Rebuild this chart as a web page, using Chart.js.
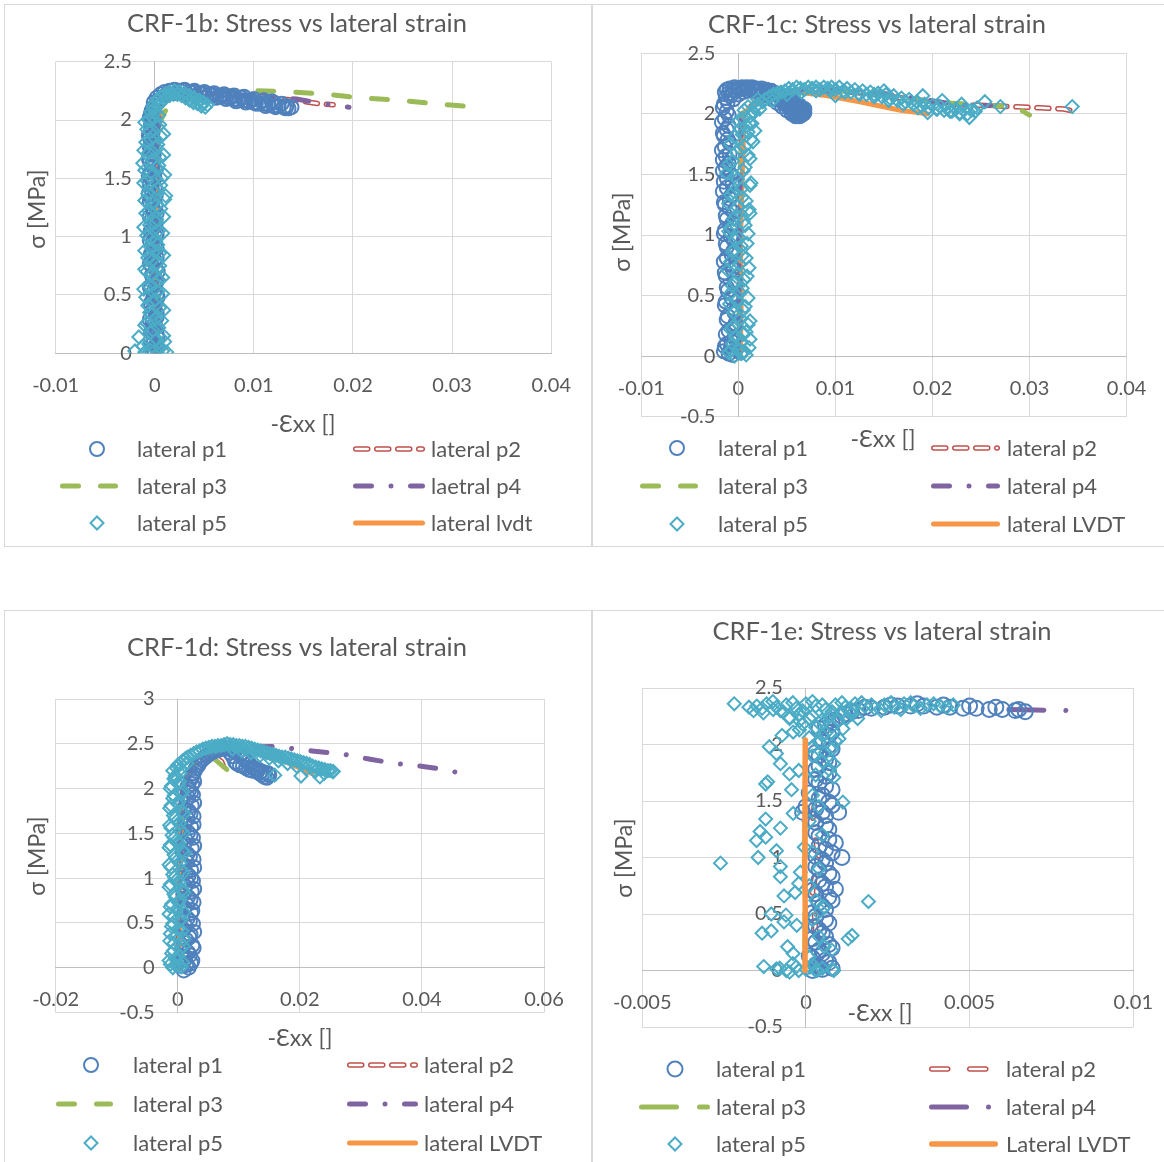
<!DOCTYPE html>
<html>
<head>
<meta charset="utf-8">
<title>CRF-1 lateral strain</title>
<script src="https://cdn.jsdelivr.net/npm/chart.js@4.4.0/dist/chart.umd.min.js"></script>
<style>
  body { margin: 0; background: #fff; width: 1164px; height: 1162px; overflow: hidden; position: relative; }
  .panel { position: absolute; border: 1px solid #d9d9d9; background: #fff; overflow: hidden; }
  .panel canvas { position: absolute; left: 0; top: 0; }
</style>
</head>
<body>
<div class="panel" style="left:4px;top:4px;width:586px;height:541px"><canvas id="crf1b" width="586" height="541"></canvas></div>
<div class="panel" style="left:592px;top:4px;width:580px;height:541px"><canvas id="crf1c" width="580" height="541"></canvas></div>
<div class="panel" style="left:4px;top:610px;width:586px;height:560px"><canvas id="crf1d" width="586" height="560"></canvas></div>
<div class="panel" style="left:592px;top:610px;width:580px;height:560px"><canvas id="crf1e" width="580" height="560"></canvas></div>
<script>
// ---------- CRF-1b ----------
const bXTicks = [-0.01, 0, 0.01, 0.02, 0.03, 0.04];
const bYTicks = [0, 0.5, 1, 1.5, 2, 2.5];
const bNames = ['lateral p1', 'lateral p2', 'lateral p3', 'laetral p4', 'lateral p5', 'lateral lvdt'];
const bP1 = [[0.0000,0.00],[-0.0003,0.03],[0.0002,0.05],[-0.0001,0.09],[0.0003,0.13],[-0.0004,0.18],[0.0001,0.22],[-0.0002,0.27],[0.0002,0.31],[-0.0003,0.36],[0.0000,0.41],[-0.0002,0.46],[0.0002,0.50],[-0.0004,0.55],[0.0001,0.60],[-0.0002,0.65],[0.0003,0.70],[-0.0003,0.75],[0.0000,0.80],[-0.0004,0.85],[0.0002,0.90],[-0.0002,0.95],[0.0001,1.00],[-0.0004,1.05],[0.0000,1.10],[-0.0003,1.15],[0.0002,1.20],[-0.0002,1.25],[-0.0005,1.30],[0.0001,1.35],[-0.0003,1.40],[-0.0005,1.45],[0.0000,1.50],[-0.0004,1.55],[-0.0002,1.60],[-0.0005,1.65],[-0.0001,1.70],[-0.0004,1.75],[-0.0003,1.80],[-0.0005,1.85],[-0.0002,1.90],[-0.0004,1.95],[-0.0003,2.00],[-0.0004,2.05],[-0.0002,2.10],[-0.0001,2.15],[0.0002,2.19],[0.0006,2.22],[0.0010,2.24],[0.0015,2.25],[0.0020,2.26],[0.0025,2.25],[0.0030,2.25],[0.0035,2.24],[0.0040,2.24],[0.0045,2.23],[0.0050,2.22],[0.0055,2.22],[0.0060,2.21],[0.0065,2.20],[0.0070,2.20],[0.0075,2.19],[0.0080,2.18],[0.0085,2.17],[0.0090,2.17],[0.0095,2.16],[0.0100,2.15],[0.0105,2.14],[0.0110,2.14],[0.0115,2.13],[0.0120,2.12],[0.0125,2.12],[0.0130,2.11],[0.0135,2.10],[0.0138,2.11],[0.0133,2.12],[0.0128,2.14],[0.0120,2.15],[0.0110,2.17],[0.0100,2.18],[0.0090,2.20],[0.0080,2.21],[0.0070,2.22],[0.0060,2.23],[0.0050,2.24],[0.0040,2.25],[0.0030,2.26],
  [-0.0001,0.02],[0.0001,0.07],[-0.0004,0.11],[0.0002,0.16],[-0.0002,0.20],[0.0000,0.25],[-0.0005,0.29],[0.0002,0.34],[-0.0001,0.38],[-0.0004,0.43],[0.0003,0.48],[-0.0001,0.53],[-0.0005,0.57],[0.0002,0.62],[-0.0003,0.67],[0.0001,0.72],[-0.0005,0.77],[0.0002,0.82],[-0.0002,0.87],[0.0000,0.92],[-0.0005,0.97],[0.0002,1.02],[-0.0002,1.07],[0.0001,1.12],[-0.0005,1.17],[-0.0001,1.22],[0.0001,1.27],[-0.0003,1.32],[-0.0006,1.37],[0.0000,1.42],[-0.0002,1.47],[-0.0006,1.52],[0.0001,1.57],[-0.0003,1.62],[-0.0006,1.67],[-0.0002,1.72],[-0.0005,1.77],[-0.0001,1.82],[-0.0006,1.87],[-0.0003,1.92],[-0.0001,1.97],[-0.0005,2.02],[-0.0003,2.08],[0.0000,2.12],[0.0004,2.17],
  [0.0012,2.22],[0.0022,2.23],[0.0032,2.22],[0.0042,2.21],[0.0052,2.20],[0.0062,2.19],[0.0072,2.18],[0.0082,2.16],[0.0092,2.15],[0.0102,2.14],[0.0112,2.12],[0.0122,2.11],[0.0132,2.10],[0.0118,2.16],[0.0108,2.16],[0.0098,2.17],[0.0088,2.19],[0.0078,2.20],[0.0068,2.21],[0.0058,2.22],[0.0048,2.23]];
const bP2 = [[0.0001,0],[0.0002,0.5],[0.0001,1.0],[0.0002,1.5],[0.0001,1.9],[0.0006,2.12],[0.0015,2.22],[0.0030,2.24],[0.0050,2.23],[0.0070,2.22],[0.0090,2.21],[0.0110,2.20],[0.0130,2.18],[0.0150,2.16],[0.0165,2.14],[0.0180,2.13]];
const bP3 = [[0,0],[0.0001,0.6],[0.0002,1.2],[0.0003,1.8],[0.0005,1.98],[0.0012,2.10],[0.0022,2.17],[0.0040,2.22],[0.0065,2.25],[0.0086,2.255],[0.0131,2.244],[0.0177,2.218],[0.0207,2.19],[0.0245,2.17],[0.0282,2.14],[0.0325,2.11]];
const bP4 = [[0,0],[-0.0001,1.0],[0,1.9],[0.0010,2.18],[0.0030,2.23],[0.0060,2.22],[0.0100,2.20],[0.0143,2.18],[0.0170,2.14],[0.0196,2.11]];
const bP5 = [[-0.0020,0.02],[-0.0016,0.14],[-0.0010,0.01],[-0.0005,0.03],[0.0003,0.00],[0.0008,0.02],[0.0012,0.01],[0.0010,0.10],[-0.0006,0.08],[0.0002,0.12],[-0.0004,0.18],[0.0004,0.22],[-0.0008,0.26],[0.0001,0.30],[-0.0005,0.35],[0.0005,0.39],[-0.0002,0.44],[-0.0009,0.48],[0.0003,0.53],[-0.0006,0.58],[0.0004,0.63],[-0.0003,0.68],[-0.0010,0.72],[0.0002,0.77],[-0.0007,0.82],[0.0005,0.86],[-0.0004,0.91],[0.0001,0.96],[-0.0008,1.01],[0.0004,1.05],[-0.0005,1.10],[0.0002,1.15],[-0.0009,1.20],[0.0006,1.24],[-0.0003,1.29],[0.0010,1.32],[-0.0007,1.37],[0.0003,1.41],[-0.0011,1.46],[0.0007,1.50],[-0.0004,1.55],[0.0002,1.59],[-0.0012,1.63],[0.0005,1.68],[-0.0006,1.72],[0.0001,1.77],[-0.0009,1.81],[0.0006,1.86],[-0.0005,1.90],[0.0003,1.94],[-0.0010,1.98],[-0.0002,2.02],[0.0001,2.07],[0.0003,2.12],[0.0007,2.16],[0.0011,2.19],[0.0015,2.21],[0.0019,2.22],[0.0023,2.22],[0.0027,2.21],[0.0031,2.19],[0.0035,2.17],[0.0039,2.15],[0.0043,2.14],[0.0047,2.12],[0.0051,2.11],[0.0053,2.13],[0.0049,2.15],[0.0045,2.17],[0.0040,2.19],[0.0035,2.21],[0.0030,2.23],[0.0025,2.24],[0.0020,2.25],[0.0015,2.24],[0.0010,2.22],[0.0006,2.20],[0.0002,2.17],[-0.0002,2.12],[-0.0004,2.07],
  [0.0006,0.05],[-0.0012,0.06],[0.0009,0.15],[-0.0002,0.20],[-0.0010,0.24],[0.0007,0.28],[-0.0003,0.33],[0.0009,0.37],[-0.0007,0.41],[0.0001,0.46],[0.0008,0.51],[-0.0011,0.55],[0.0000,0.60],[0.0008,0.65],[-0.0008,0.70],[0.0005,0.75],[-0.0002,0.80],[0.0009,0.84],[-0.0010,0.88],[0.0003,0.93],[-0.0005,0.98],[0.0008,1.03],[-0.0011,1.08],[0.0001,1.12],[0.0009,1.17],[-0.0006,1.22],[0.0002,1.27],[-0.0010,1.31],[0.0011,1.35],[-0.0001,1.39],[0.0006,1.44],[-0.0008,1.48],[0.0010,1.53],[-0.0010,1.57],[0.0004,1.61],[-0.0003,1.66],[0.0009,1.70],[-0.0011,1.74],[0.0003,1.79],[-0.0004,1.83],[0.0009,1.88],[-0.0008,1.92],[0.0005,1.96],[-0.0006,2.00],[0.0004,2.04],[-0.0001,2.09],[0.0005,2.14]];
const bLvdt = [[0.0001,0],[0.0001,0.6],[0.0002,1.2],[0.0002,1.8],[0.0005,2.05]];

// ---------- CRF-1c ----------
const cXTicks = [-0.01, 0, 0.01, 0.02, 0.03, 0.04];
const cYTicks = [-0.5, 0, 0.5, 1, 1.5, 2, 2.5];
const cNames = ['lateral p1', 'lateral p2', 'lateral p3', 'lateral p4', 'lateral p5', 'lateral LVDT'];
const cP1 = [[-0.0010,0.02],[-0.0015,0.04],[-0.0006,0.01],[0.0002,0.03],[-0.0012,0.10],[-0.0004,0.15],[-0.0010,0.21],[-0.0003,0.27],[-0.0011,0.33],[-0.0005,0.39],[-0.0013,0.45],[-0.0006,0.51],[-0.0012,0.57],[-0.0004,0.63],[-0.0014,0.69],[-0.0007,0.75],[-0.0012,0.81],[-0.0005,0.87],[-0.0013,0.93],[-0.0008,0.99],[-0.0014,1.04],[-0.0006,1.10],[-0.0013,1.16],[-0.0009,1.22],[-0.0015,1.27],[-0.0007,1.33],[-0.0012,1.39],[-0.0015,1.44],[-0.0008,1.50],[-0.0013,1.56],[-0.0016,1.62],[-0.0009,1.67],[-0.0014,1.73],[-0.0011,1.79],[-0.0016,1.84],[-0.0010,1.90],[-0.0014,1.96],[-0.0012,2.02],[-0.0015,2.08],[-0.0013,2.13],[-0.0010,2.17],[-0.0006,2.20],[-0.0001,2.21],[0.0004,2.22],[0.0009,2.22],[0.0014,2.22],[0.0019,2.21],[0.0024,2.21],[0.0029,2.20],[0.0034,2.19],[0.0039,2.17],[0.0044,2.15],[0.0049,2.13],[0.0054,2.11],[0.0059,2.09],[0.0063,2.07],[0.0066,2.04],[0.0068,2.01],[0.0065,1.99],[0.0060,1.99],[0.0055,2.01],[0.0050,2.03],[0.0045,2.06],[0.0040,2.09],[0.0035,2.12],[0.0030,2.15],[0.0025,2.17],[0.0020,2.18],[0.0015,2.19],[0.0010,2.19],[0.0005,2.18],[0.0000,2.16],[-0.0005,2.12],[0.0045,2.11],[0.0050,2.08],[0.0055,2.06],[0.0060,2.04],[0.0062,2.02],[0.0058,2.01],[0.0052,2.05],[0.0048,2.10],
  [-0.0008,0.06],[-0.0014,0.08],[-0.0007,0.12],[-0.0013,0.18],[-0.0005,0.24],[-0.0012,0.30],[-0.0004,0.36],[-0.0014,0.42],[-0.0007,0.48],[-0.0011,0.54],[-0.0003,0.60],[-0.0013,0.66],[-0.0006,0.72],[-0.0015,0.78],[-0.0007,0.84],[-0.0012,0.90],[-0.0005,0.96],[-0.0015,1.01],[-0.0008,1.07],[-0.0012,1.13],[-0.0005,1.19],[-0.0014,1.25],[-0.0009,1.30],[-0.0016,1.36],[-0.0006,1.42],[-0.0012,1.47],[-0.0016,1.53],[-0.0010,1.59],[-0.0013,1.65],[-0.0017,1.70],[-0.0009,1.76],[-0.0015,1.82],[-0.0012,1.87],[-0.0017,1.93],[-0.0010,1.99],[-0.0016,2.05],[-0.0011,2.10],[-0.0008,2.15],
  [0.0040,2.12],[0.0046,2.09],[0.0051,2.06],[0.0056,2.03],[0.0061,2.00],[0.0064,2.05],[0.0057,2.08],[0.0053,2.10],[0.0047,2.13],[0.0042,2.16],[0.0036,2.17],[0.0030,2.19],[0.0018,2.20],[0.0008,2.21],[-0.0003,2.19],[0.0066,2.02],[0.0063,1.98],
  [-0.0014,2.18],[-0.0012,2.20],[-0.0009,2.21],[-0.0004,2.22],[0.0001,2.20],[0.0006,2.21],[0.0011,2.21],[0.0016,2.21],[0.0021,2.20],[0.0026,2.19],[0.0031,2.18],[0.0036,2.16],
  [0.0067,2.00],[0.0064,2.03],[0.0061,2.06],[0.0058,2.04],[0.0055,2.00],[0.0068,2.04],[0.0059,1.98],[0.0054,2.07],[0.0050,2.10],[0.0046,2.12]];
const cP2 = [[0.0001,0],[0.0002,1.0],[0.0004,2.0],[0.0030,2.18],[0.0080,2.20],[0.0130,2.17],[0.0180,2.12],[0.0220,2.08],[0.0255,2.07],[0.0280,2.06],[0.0310,2.05],[0.0335,2.04],[0.0348,2.02]];
const cP3 = [[0,0],[0.0002,1.0],[0.0004,2.0],[0.0030,2.17],[0.0080,2.20],[0.0140,2.17],[0.0200,2.10],[0.0250,2.07],[0.0285,2.06],[0.0300,1.99]];
const cP4 = [[0,0],[0.0001,1.0],[0.0003,2.0],[0.0030,2.18],[0.0080,2.21],[0.0140,2.18],[0.0190,2.12],[0.0230,2.07],[0.0260,2.07]];
const cP5 = [[-0.0004,0.00],[0.0003,0.02],[-0.0010,0.03],[0.0008,0.01],[0.0000,0.06],[-0.0006,0.10],[0.0012,0.14],[0.0005,0.18],[-0.0008,0.22],[0.0010,0.26],[0.0002,0.31],[-0.0005,0.36],[0.0007,0.41],[-0.0002,0.46],[-0.0009,0.51],[0.0004,0.56],[-0.0004,0.61],[0.0009,0.66],[-0.0011,0.71],[0.0001,0.76],[0.0008,0.81],[-0.0006,0.86],[0.0003,0.91],[-0.0003,0.96],[0.0010,1.01],[-0.0008,1.06],[0.0005,1.11],[-0.0002,1.16],[0.0011,1.21],[-0.0010,1.26],[0.0004,1.31],[-0.0005,1.36],[0.0012,1.41],[-0.0001,1.46],[-0.0012,1.51],[0.0007,1.56],[-0.0006,1.61],[0.0010,1.66],[0.0002,1.71],[-0.0008,1.75],[0.0013,1.79],[0.0004,1.83],[0.0017,1.86],[0.0008,1.90],[0.0000,1.94],[0.0012,1.98],[0.0006,2.03],[0.0018,2.06],[0.0025,2.10],[0.0032,2.14],[0.0040,2.17],[0.0048,2.19],[0.0056,2.20],[0.0064,2.21],[0.0072,2.22],[0.0080,2.22],[0.0088,2.22],[0.0096,2.22],[0.0104,2.22],[0.0112,2.21],[0.0120,2.20],[0.0128,2.19],[0.0136,2.18],[0.0144,2.17],[0.0152,2.16],[0.0160,2.15],[0.0168,2.13],[0.0176,2.12],[0.0184,2.10],[0.0192,2.08],[0.0200,2.07],[0.0208,2.06],[0.0216,2.05],[0.0224,2.04],[0.0232,2.03],[0.0240,2.03],[0.0254,2.10],[0.0270,2.06],[0.0344,2.06],[0.0238,1.97],[0.0228,2.00],[0.0218,2.02],[0.0205,2.04],[0.0195,2.01],[0.0185,2.05],[0.0170,2.08],[0.0155,2.11],[0.0140,2.14],[0.0125,2.16],[0.0110,2.18],[0.0095,2.19],[0.0080,2.19],[0.0065,2.18],[0.0050,2.16],[0.0035,2.11],[0.0022,2.04],[0.0012,1.92],[0.0100,2.15],[0.0150,2.19],[0.0190,2.15],[0.0210,2.11],[0.0230,2.08],[0.0246,2.05],
  [0.0006,0.04],[-0.0007,0.05],[0.0011,0.07],[0.0003,0.12],[-0.0003,0.16],[0.0008,0.20],[-0.0006,0.24],[0.0012,0.29],[-0.0001,0.33],[0.0005,0.38],[-0.0009,0.43],[0.0010,0.48],[0.0001,0.53],[-0.0006,0.58],[0.0006,0.63],[-0.0001,0.68],[0.0011,0.73],[-0.0008,0.78],[0.0004,0.83],[-0.0004,0.88],[0.0009,0.93],[0.0000,0.98],[-0.0010,1.03],[0.0007,1.08],[-0.0005,1.13],[0.0012,1.18],[-0.0001,1.23],[0.0008,1.28],[-0.0008,1.33],[0.0003,1.38],[0.0013,1.43],[-0.0004,1.48],[0.0005,1.53],[-0.0010,1.58],[0.0012,1.63],[-0.0002,1.68],[0.0007,1.73],[0.0015,1.77],[-0.0004,1.81],[0.0010,1.85],[0.0002,1.88],[0.0014,1.92],[0.0005,1.96],[0.0016,2.01],[0.0010,2.06],[0.0020,2.12],
  [0.0015,2.02],[0.0020,2.08],[0.0028,2.12],[0.0036,2.16],[0.0044,2.18],[0.0052,2.21],[0.0060,2.22],[0.0068,2.20],[0.0076,2.21],[0.0084,2.20],[0.0092,2.21],[0.0100,2.20],[0.0108,2.19],[0.0116,2.18],[0.0124,2.17],[0.0132,2.16],[0.0140,2.16],[0.0148,2.14],[0.0156,2.13],[0.0164,2.11],[0.0172,2.10],[0.0180,2.08],[0.0188,2.07],[0.0196,2.05],[0.0204,2.04],[0.0212,2.03],[0.0220,2.02],[0.0228,2.01],[0.0236,2.00],[0.0244,2.02]];
const cLvdt = [[0.0002,0],[0.0003,0.5],[0.0002,1.0],[0.0004,1.5],[0.0006,2.0],[0.0020,2.13],[0.0040,2.17],[0.0060,2.18],[0.0092,2.15],[0.0125,2.10],[0.0167,2.03],[0.0195,2.00]];

// ---------- CRF-1d ----------
const dXTicks = [-0.02, 0, 0.02, 0.04, 0.06];
const dYTicks = [-0.5, 0, 0.5, 1, 1.5, 2, 2.5, 3];
const dNames = ['lateral p1', 'lateral p2', 'lateral p3', 'lateral p4', 'lateral p5', 'lateral LVDT'];
const dP1 = [[0.0010,-0.03],[0.0018,0.00],[0.0006,0.02],[0.0022,0.05],[0.0012,0.09],[0.0020,0.14],[0.0008,0.19],[0.0024,0.25],[0.0014,0.31],[0.0021,0.37],[0.0009,0.43],[0.0025,0.49],[0.0016,0.55],[0.0022,0.61],[0.0011,0.67],[0.0026,0.73],[0.0017,0.79],[0.0023,0.85],[0.0012,0.91],[0.0025,0.97],[0.0018,1.03],[0.0022,1.09],[0.0010,1.15],[0.0026,1.21],[0.0016,1.27],[0.0023,1.33],[0.0011,1.39],[0.0025,1.45],[0.0017,1.51],[0.0022,1.57],[0.0012,1.63],[0.0026,1.69],[0.0018,1.75],[0.0023,1.81],[0.0014,1.87],[0.0025,1.93],[0.0019,1.99],[0.0024,2.05],[0.0022,2.11],[0.0026,2.17],[0.0030,2.23],[0.0036,2.29],[0.0043,2.34],[0.0050,2.38],[0.0058,2.41],[0.0066,2.43],[0.0074,2.45],[0.0082,2.45],[0.0090,2.43],[0.0098,2.40],[0.0106,2.35],[0.0114,2.30],[0.0122,2.24],[0.0130,2.19],[0.0138,2.15],[0.0146,2.12],[0.0150,2.15],[0.0142,2.18],[0.0132,2.21],[0.0122,2.20],[0.0112,2.23],[0.0102,2.26],[0.0094,2.30],[0.0090,2.36],[0.0086,2.40],
  [0.0014,0.03],[0.0024,0.08],[0.0009,0.12],[0.0017,0.17],[0.0026,0.22],[0.0011,0.28],[0.0019,0.34],[0.0027,0.40],[0.0013,0.46],[0.0020,0.52],[0.0008,0.58],[0.0024,0.64],[0.0015,0.70],[0.0021,0.76],[0.0009,0.82],[0.0027,0.88],[0.0016,0.94],[0.0022,1.00],[0.0013,1.06],[0.0027,1.12],[0.0015,1.18],[0.0020,1.24],[0.0008,1.30],[0.0027,1.36],[0.0014,1.42],[0.0021,1.48],[0.0010,1.54],[0.0026,1.60],[0.0016,1.66],[0.0021,1.72],[0.0011,1.78],[0.0027,1.84],[0.0017,1.90],[0.0022,1.96],[0.0016,2.02],[0.0027,2.08],[0.0024,2.14],[0.0028,2.20],
  [0.0034,2.26],[0.0040,2.32],[0.0047,2.36],[0.0054,2.40],[0.0062,2.42],[0.0070,2.44],[0.0078,2.45],[0.0086,2.44],[0.0094,2.42],[0.0102,2.38],[0.0110,2.33],[0.0118,2.27],[0.0126,2.22],[0.0134,2.17],[0.0142,2.13],[0.0148,2.17],[0.0137,2.19],[0.0127,2.22],[0.0117,2.21],[0.0107,2.25],[0.0097,2.28]];
const dP2 = [[0,0],[0.0003,1.0],[0.0008,2.0],[0.0030,2.30],[0.0060,2.36],[0.0072,2.30],[0.0075,2.25]];
const dP3 = [[0,0],[0.0003,1.0],[0.0008,2.0],[0.0030,2.30],[0.0060,2.33],[0.0076,2.24],[0.0094,2.13]];
const dP4 = [[0,0],[0.0004,1.0],[0.0008,2.0],[0.0030,2.35],[0.0080,2.46],[0.0159,2.47],[0.0220,2.42],[0.0270,2.385],[0.0313,2.33],[0.0356,2.28],[0.0399,2.25],[0.0439,2.21],[0.0476,2.15]];
const dP5 = [[-0.0008,0.00],[0.0002,0.02],[-0.0012,0.04],[0.0008,0.06],[-0.0004,0.10],[-0.0010,0.16],[0.0004,0.21],[-0.0006,0.27],[0.0010,0.32],[-0.0012,0.38],[0.0000,0.43],[-0.0008,0.49],[0.0006,0.54],[-0.0014,0.60],[-0.0002,0.65],[-0.0010,0.71],[0.0004,0.76],[-0.0006,0.82],[0.0008,0.87],[-0.0012,0.93],[-0.0002,0.98],[-0.0008,1.04],[0.0006,1.09],[-0.0014,1.15],[0.0000,1.20],[-0.0006,1.26],[0.0008,1.31],[-0.0012,1.37],[-0.0002,1.42],[-0.0009,1.48],[0.0005,1.53],[-0.0013,1.59],[-0.0001,1.64],[-0.0007,1.70],[0.0007,1.75],[-0.0011,1.81],[0.0002,1.86],[-0.0006,1.92],[0.0008,1.97],[-0.0010,2.03],[0.0003,2.08],[-0.0004,2.14],[-0.0008,2.20],[0.0000,2.26],[0.0008,2.31],[0.0016,2.35],[0.0026,2.39],[0.0036,2.42],[0.0046,2.45],[0.0056,2.47],[0.0066,2.48],[0.0076,2.49],[0.0086,2.49],[0.0096,2.48],[0.0106,2.47],[0.0116,2.46],[0.0126,2.44],[0.0136,2.42],[0.0146,2.40],[0.0156,2.38],[0.0166,2.36],[0.0176,2.35],[0.0186,2.33],[0.0196,2.31],[0.0206,2.29],[0.0216,2.27],[0.0226,2.24],[0.0236,2.22],[0.0246,2.20],[0.0255,2.19],[0.0240,2.17],[0.0225,2.19],[0.0210,2.22],[0.0195,2.25],[0.0180,2.28],[0.0165,2.31],[0.0150,2.34],[0.0135,2.37],[0.0120,2.40],[0.0105,2.42],[0.0090,2.44],[0.0159,2.15],[0.0202,2.14],[0.0233,2.13],[0.0254,2.19],[0.0015,2.28],[0.0005,2.22],[-0.0005,2.10],
  [-0.0004,0.03],[0.0006,0.01],[-0.0014,0.08],[0.0001,0.13],[-0.0007,0.19],[0.0009,0.24],[-0.0013,0.30],[-0.0003,0.35],[0.0007,0.41],[-0.0010,0.46],[0.0002,0.52],[-0.0006,0.57],[0.0010,0.62],[-0.0012,0.68],[0.0001,0.73],[-0.0004,0.79],[0.0010,0.84],[-0.0014,0.90],[0.0003,0.95],[-0.0005,1.01],[0.0009,1.06],[-0.0011,1.12],[0.0004,1.17],[-0.0003,1.23],[0.0011,1.28],[-0.0014,1.34],[0.0002,1.39],[-0.0006,1.45],[0.0009,1.50],[-0.0011,1.56],[0.0003,1.61],[-0.0004,1.67],[0.0010,1.72],[-0.0013,1.78],[0.0000,1.83],[-0.0008,1.89],[0.0006,1.94],[-0.0012,2.00],[0.0001,2.05],[-0.0006,2.11],[0.0004,2.17],[-0.0002,2.23],[0.0004,2.28],[0.0012,2.33],[0.0021,2.37],[0.0031,2.41],[0.0041,2.44],[0.0051,2.46],[0.0061,2.47],[0.0071,2.48],[0.0081,2.50],[0.0091,2.49],[0.0101,2.48],[0.0111,2.47],[0.0121,2.45],[0.0131,2.43],[0.0141,2.41],[0.0151,2.39],[0.0161,2.37],[0.0171,2.35],[0.0181,2.34],[0.0191,2.32],[0.0201,2.30],[0.0211,2.28],[0.0221,2.25],[0.0231,2.23],[0.0241,2.21],[0.0250,2.20]];
const dLvdt = [[0.0002,0],[0.0004,1.0],[0.0008,2.0],[0.0030,2.35],[0.0080,2.45],[0.0150,2.38],[0.0220,2.17]];

// ---------- CRF-1e ----------
const eXTicks = [-0.005, 0, 0.005, 0.01];
const eYTicks = [-0.5, 0, 0.5, 1, 1.5, 2, 2.5];
const eNames = ['lateral p1', 'lateral p2', 'lateral p3', 'lateral p4', 'lateral p5', 'Lateral LVDT'];
const eP1 = [[0.0002,0.00],[0.0005,0.01],[0.0008,0.02],[0.0003,0.05],[0.0006,0.09],[0.0001,0.13],[0.0004,0.18],[0.0007,0.23],[0.0002,0.28],[0.0005,0.33],[0.0003,0.39],[0.0006,0.45],[0.0002,0.51],[0.0005,0.57],[0.0008,0.62],[0.0003,0.68],[0.0006,0.74],[0.0004,0.80],[0.0007,0.86],[0.0003,0.92],[0.0005,0.98],[0.0008,1.04],[0.0004,1.10],[0.0007,1.16],[0.0003,1.22],[0.0006,1.28],[0.0002,1.34],[0.0005,1.40],[0.0008,1.46],[0.0004,1.52],[0.0001,1.57],[0.0006,1.63],[0.0003,1.69],[0.0007,1.75],[0.0004,1.81],[0.0006,1.87],[0.0003,1.93],[0.0007,1.99],[0.0005,2.05],[0.0008,2.11],[0.0006,2.17],[0.0009,2.22],[0.0012,2.27],[0.0016,2.30],[0.0020,2.32],[0.0024,2.33],[0.0028,2.34],[0.0032,2.34],[0.0036,2.34],[0.0040,2.33],[0.0044,2.33],[0.0048,2.32],[0.0052,2.32],[0.0056,2.31],[0.0060,2.31],[0.0064,2.30],[0.0067,2.29],[0.0065,2.31],[0.0058,2.33],[0.0050,2.34],[0.0042,2.35],[0.0034,2.36],[0.0026,2.35],[0.0018,2.33],[0.0010,1.40],[0.0009,0.72],[0.0011,1.00],[0.0000,1.45],[-0.0001,1.40],
  [0.0004,0.03],[0.0007,0.07],[0.0002,0.11],[0.0005,0.15],[0.0008,0.20],[0.0003,0.25],[0.0006,0.30],[0.0004,0.36],[0.0007,0.42],[0.0003,0.48],[0.0006,0.54],[0.0004,0.60],[0.0007,0.65],[0.0002,0.71],[0.0005,0.77],[0.0008,0.83],[0.0004,0.89],[0.0006,0.95],[0.0003,1.01],[0.0006,1.07],[0.0009,1.13],[0.0004,1.19],[0.0007,1.25],[0.0003,1.31],[0.0006,1.37],[0.0003,1.43],[0.0007,1.49],[0.0005,1.55],[0.0008,1.60],[0.0004,1.66],[0.0006,1.72],[0.0003,1.78],[0.0007,1.84],[0.0004,1.90],[0.0008,1.96],[0.0005,2.02],[0.0007,2.08],[0.0004,2.14],[0.0008,2.19],[0.0011,2.25],[0.0014,2.29]];
const eP2 = [[0.0003,0.35],[0.0002,0.70],[0.0004,1.00],[0.0002,1.30],[0.0003,1.60]];
const eP3 = [[-0.00003,0.20],[-0.00003,1.00],[-0.00003,1.80]];
const eP4 = [[0.0062,2.31],[0.0070,2.305],[0.0080,2.30]];
const eP5 = [[-0.0015,2.34],[-0.0012,2.36],[-0.0009,2.33],[-0.0006,2.35],[-0.0003,2.32],[0.0000,2.36],[0.0003,2.34],[0.0006,2.31],[0.0009,2.35],[0.0012,2.33],[0.0015,2.36],[0.0018,2.34],[0.0021,2.32],[0.0024,2.35],[0.0027,2.33],[0.0030,2.36],[0.0033,2.34],[0.0037,2.35],[0.0041,2.34],[0.0045,2.35],
  [-0.0002,2.27],[0.0002,2.25],[0.0005,2.22],[-0.0001,2.18],[0.0003,2.15],[0.0006,2.10],[0.0001,2.06],[0.0004,2.02],[0.0008,1.96],[0.0002,1.90],[0.0005,1.85],[0.0007,1.78],[0.0003,1.73],
  [0.0002,1.55],[0.0004,1.45],[0.0001,1.32],[0.0005,1.20],[0.0002,1.05],[0.0004,0.90],[0.0001,0.75],[0.0003,0.62],[0.0002,0.45],[0.0004,0.30],[0.0001,0.12],
  [-0.0008,0.02],[-0.0006,0.00],[-0.0003,0.03],[0.0000,0.01],[0.0003,0.00],[0.0005,0.02],[0.0008,0.01],[-0.0004,0.06],[0.0002,0.05],
  [-0.00219,2.36],[-0.00174,2.33],[-0.00134,2.32],[-0.00101,2.38],[-0.00078,2.30],[-0.0005,2.23],[-0.00022,2.26],[0.00124,2.23],[0.00158,2.23],[0.00113,2.14],[0.00101,2.05],[-0.00073,2.08],[-0.00039,2.11],[-0.00112,1.98],[-0.0009,1.92],[-0.00078,1.83],[-0.0005,1.74],[-0.00022,1.77],[0.00085,1.83],[0.00085,1.71],[-0.00123,1.65],[-0.00117,1.67],[-0.00044,1.60],[0.00113,1.49],[-0.00039,1.39],[-0.00123,1.34],[-0.00078,1.26],[-0.0014,1.23],[-0.00123,1.18],[-0.00151,1.15],[-0.00005,1.09],[-0.0009,1.06],[-0.00146,1.00],[-0.00261,0.95],[-0.00078,0.92],[-0.00078,0.83],[-0.00017,0.87],[-0.00022,0.77],[-0.00033,0.69],[-0.00067,0.66],[0.00191,0.61],[0.00056,0.56],[0.00045,0.53],[-0.00106,0.50],[-0.00061,0.49],
  [-0.00134,0.33],[-0.00106,0.35],[-0.00067,0.43],[-0.00028,0.40],[0.00129,0.28],[0.00141,0.31],[-0.00056,0.21],[-0.00039,0.15],[-0.00129,0.035],[-0.0009,0.015],[-0.0005,-0.015],[-0.00022,0.00],[0.00079,0.18],[0.00056,0.21],[0.00085,0.00],[0.00034,0.00],[0.00012,0.03],
  [-0.0016,2.30],[-0.0013,2.28],[-0.0010,2.31],[-0.0007,2.29],[-0.0004,2.37],[-0.0001,2.30],[0.0002,2.38],[0.0005,2.35],[0.0008,2.29],[0.0011,2.37],[0.0014,2.31],[0.0017,2.37],[0.0020,2.35],[0.0023,2.30],[0.0026,2.37],[0.0029,2.31],[0.0032,2.37],[0.0035,2.32],[0.0039,2.36],[0.0043,2.33],[-0.0005,2.24],[-0.0002,2.21],[0.0001,2.23],[0.0004,2.19],[0.0007,2.25],[0.0010,2.21],[0.0008,2.16],[0.0005,2.08],[0.0009,2.03],[0.0002,1.98],[0.0006,1.93],[-0.0002,2.13],[0.0011,2.28],[0.0014,2.27]];
const eLvdt = [[-0.00003,0],[-0.00002,0.5],[-0.00004,1.0],[-0.00003,1.5],[-0.00002,2.04]];

const FONT = "Lato, 'DejaVu Sans', sans-serif";
const TEXT = '#595959';
const BLUE = '#4F81BD', RED = '#C0504D', GREEN = '#9BBB59', PURPLE = '#8064A2', AQUA = '#4BACC6', ORANGE = '#F79646';
const MARKER_LINE = 2;

function pts(arr) {
  return arr.map(p => ({x: p[0], y: p[1]}));
}

function markerSet(label, data, color, style, r, order) {
  return {
    label, data: pts(data), showLine: false, order,
    pointStyle: style, pointRadius: r, pointBorderWidth: MARKER_LINE,
    pointBorderColor: color, pointBackgroundColor: 'rgba(255,255,255,0)'
  };
}

function lineSet(label, data, st, order, inner) {
  return {
    label, data: pts(data), showLine: true, order, pointRadius: 0,
    borderColor: inner ? '#ffffff' : st.color,
    borderWidth: inner ? st.width - 3 : st.width,
    borderDash: st.dash, borderCapStyle: 'round', borderJoinStyle: 'round'
  };
}

function strokeSample(ctx, st, x1, x2, y) {
  const h = st.width / 2;
  ctx.save();
  ctx.lineCap = 'round';
  ctx.setLineDash(st.dash);
  ctx.strokeStyle = st.color;
  ctx.lineWidth = st.width;
  ctx.beginPath(); ctx.moveTo(x1 + h, y); ctx.lineTo(x2 - h, y); ctx.stroke();
  if (st.hollow) {
    ctx.strokeStyle = '#ffffff';
    ctx.lineWidth = st.width - 3;
    ctx.beginPath(); ctx.moveTo(x1 + h, y); ctx.lineTo(x2 - h, y); ctx.stroke();
  }
  ctx.restore();
}

function drawMarker(ctx, kind, color, x, y, r) {
  ctx.save();
  ctx.strokeStyle = color;
  ctx.lineWidth = MARKER_LINE;
  ctx.beginPath();
  if (kind === 'circle') {
    ctx.arc(x, y, r, 0, Math.PI * 2);
  } else {
    ctx.moveTo(x, y - r); ctx.lineTo(x + r, y); ctx.lineTo(x, y + r); ctx.lineTo(x - r, y); ctx.closePath();
  }
  ctx.stroke();
  ctx.restore();
}

// titles, y tick labels, axis titles and the two-column legend
const excelText = {
  id: 'excelText',
  beforeDatasetsDraw(chart, args, o) {
    const {ctx, scales: {x, y}} = chart;
    const x0 = x.getPixelForValue(0);
    ctx.save();
    ctx.fillStyle = TEXT;
    ctx.font = o.tickSize + 'px ' + FONT;
    ctx.textAlign = 'right';
    ctx.textBaseline = 'middle';
    y.ticks.forEach(t => ctx.fillText(String(t.value), x0 - o.yGap, y.getPixelForValue(t.value)));
    ctx.restore();
  },
  afterDraw(chart, args, o) {
    const ctx = chart.ctx;
    ctx.save();
    ctx.fillStyle = TEXT;
    ctx.textBaseline = 'middle';
    ctx.textAlign = 'center';
    ctx.font = o.titleSize + 'px ' + FONT;
    ctx.fillText(o.title, o.titlePos[0], o.titlePos[1]);
    ctx.font = o.axisSize + 'px ' + FONT;
    ctx.fillText('-Ɛxx []', o.xTitlePos[0], o.xTitlePos[1]);
    ctx.save();
    ctx.translate(o.yTitlePos[0], o.yTitlePos[1]);
    ctx.rotate(-Math.PI / 2);
    ctx.fillText('σ [MPa]', 0, 0);
    ctx.restore();

    const L = o.legend;
    ctx.font = o.legendSize + 'px ' + FONT;
    ctx.textAlign = 'left';
    o.items.forEach((it, i) => {
      const yy = L.rows[Math.floor(i / 2)];
      const left = i % 2 === 0;
      if (it.marker) drawMarker(ctx, it.marker, it.color, L.mx, yy, it.r);
      else strokeSample(ctx, it.line, left ? L.l1[0] : L.l2[0], left ? L.l1[1] : L.l2[1], yy);
      ctx.fillStyle = TEXT;
      ctx.fillText(it.name, left ? L.t1 : L.t2, yy + 1);
    });
    ctx.restore();
  }
};

function makeChart(id, c) {
  const st = c.styles;
  const n = c.names;
  // higher order is painted first, so the plain lines sit under the marker clouds
  const datasets = [
    lineSet(n[1], c.series[1], st.p2, 90, false),
    lineSet(n[1], c.series[1], st.p2, 89, true),
    lineSet(n[2], c.series[2], st.p3, 80),
    lineSet(n[3], c.series[3], st.p4, 70),
    markerSet(n[0], c.series[0], BLUE, 'circle', c.circleR, 60),
    markerSet(n[4], c.series[4], AQUA, 'rectRot', c.diamondR, 20),
    lineSet(n[5], c.series[5], st.lvdt, c.lvdtOrder)
  ];
  const items = [
    {name: n[0], marker: 'circle', color: BLUE, r: c.circleR},
    {name: n[1], line: st.p2},
    {name: n[2], line: st.p3},
    {name: n[3], line: st.p4},
    {name: n[4], marker: 'diamond', color: AQUA, r: c.diamondR},
    {name: n[5], line: st.lvdt}
  ];
  const grid = {color: '#d9d9d9', lineWidth: 1, drawTicks: false};
  const border = {color: '#bfbfbf', width: 1};
  new Chart(document.getElementById(id), {
    type: 'scatter',
    data: {datasets},
    options: {
      responsive: false,
      animation: false,
      events: [],
      layout: {padding: c.pad},
      plugins: {
        legend: {display: false},
        tooltip: {enabled: false},
        excelText: {
          title: c.title, titlePos: c.titlePos, xTitlePos: c.xTitlePos, yTitlePos: c.yTitlePos,
          titleSize: 25.5, axisSize: 23, tickSize: 20, legendSize: 22, yGap: 23,
          legend: c.legend, items
        }
      },
      scales: {
        x: {
          type: 'linear', min: c.xTicks[0], max: c.xTicks[c.xTicks.length - 1],
          position: {y: 0},
          afterBuildTicks: s => { s.ticks = c.xTicks.map(v => ({value: v})); },
          ticks: {
            autoSkip: false, maxRotation: 0, padding: 20, color: TEXT,
            font: {family: FONT, size: 20},
            callback: v => String(v)
          },
          grid, border
        },
        y: {
          type: 'linear', min: c.yTicks[0], max: c.yTicks[c.yTicks.length - 1],
          position: {x: 0},
          afterBuildTicks: s => { s.ticks = c.yTicks.map(v => ({value: v})); },
          ticks: {display: false},
          grid, border
        }
      }
    },
    plugins: [excelText]
  });
}

const stylesBCD = {
  p2: {color: RED, width: 5.5, dash: [12, 9], hollow: true},
  p3: {color: GREEN, width: 5, dash: [16, 22]},
  p4: {color: PURPLE, width: 5, dash: [16, 19.5, 0.01, 19.5]},
  lvdt: {color: ORANGE, width: 5, dash: []}
};
const stylesE = {
  p2: {color: RED, width: 5.5, dash: [16, 22], hollow: true},
  p3: {color: GREEN, width: 5, dash: [35, 23, 8, 23]},
  p4: {color: PURPLE, width: 5, dash: [35, 22, 0.01, 22]},
  lvdt: {color: ORANGE, width: 5.5, dash: []}
};

makeChart('crf1b', {
  title: 'CRF-1b: Stress vs lateral strain', names: bNames,
  series: [bP1, bP2, bP3, bP4, bP5, bLvdt], xTicks: bXTicks, yTicks: bYTicks,
  styles: stylesBCD, circleR: 7, diamondR: 6.5, lvdtOrder: 75,
  pad: {left: 50.6, right: 39, top: 56.7, bottom: 192.7},
  titlePos: [292, 19], xTitlePos: [298, 420], yTitlePos: [33, 204],
  legend: {rows: [444, 481, 518], mx: 92, l1: [55, 113], t1: 132, l2: [348, 420], t2: 426}
});

makeChart('crf1c', {
  title: 'CRF-1c: Stress vs lateral strain', names: cNames,
  series: [cP1, cP2, cP3, cP4, cP5, cLvdt], xTicks: cXTicks, yTicks: cYTicks,
  styles: stylesBCD, circleR: 7, diamondR: 6.5, lvdtOrder: 75,
  pad: {left: 48.3, right: 46.4, top: 48.3, bottom: 129.3},
  titlePos: [284, 20], xTitlePos: [290, 435], yTitlePos: [30, 227],
  legend: {rows: [443, 481, 519], mx: 84, l1: [47, 105], t1: 125, l2: [338, 407], t2: 414}
});

makeChart('crf1d', {
  title: 'CRF-1d: Stress vs lateral strain', names: dNames,
  series: [dP1, dP2, dP3, dP4, dP5, dLvdt], xTicks: dXTicks, yTicks: dYTicks,
  styles: stylesBCD, circleR: 7, diamondR: 6.5, lvdtOrder: 75,
  pad: {left: 50.6, right: 47, top: 88, bottom: 158.5},
  titlePos: [292, 37], xTitlePos: [295, 428], yTitlePos: [33, 245],
  legend: {rows: [454, 493, 532], mx: 86, l1: [51, 108], t1: 128, l2: [342, 413], t2: 419}
});

makeChart('crf1e', {
  title: 'CRF-1e: Stress vs lateral strain', names: eNames,
  series: [eP1, eP2, eP3, eP4, eP5, eLvdt], xTicks: eXTicks, yTicks: eYTicks,
  styles: stylesE, circleR: 7.5, diamondR: 6.5, lvdtOrder: 10,
  pad: {left: 48, right: 39, top: 77, bottom: 144},
  titlePos: [289, 21], xTitlePos: [287, 403], yTitlePos: [32, 247],
  legend: {rows: [458, 496, 533], mx: 82, l1: [46, 118], t1: 123, l2: [336, 405], t2: 413}
});
</script>
</body>
</html>
